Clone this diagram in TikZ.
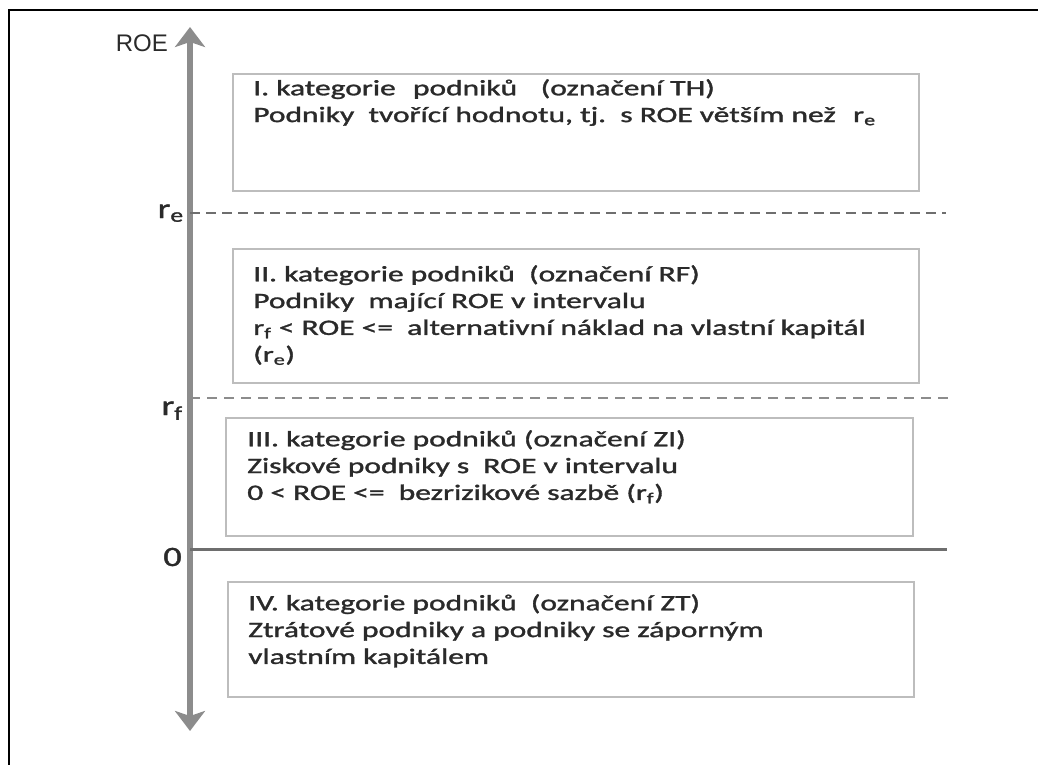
\documentclass[tikz,border=0pt]{standalone}
\usepackage{fontspec}
\setmainfont{Carlito}[Ligatures={NoCommon}, BoldFont={Carlito}, BoldFeatures={FakeBold=1.2}]
\newfontfamily\axisfont{Liberation Sans}
\usetikzlibrary{arrows.meta}
\definecolor{axisgray}{HTML}{8C8C8C}
\definecolor{boxgray}{HTML}{BDBDBD}
\definecolor{inkgray}{HTML}{2A2A2A}
\definecolor{linegray}{HTML}{6E6E6E}
\newcommand{\lowidx}[1]{\textsubscript{#1}}
\begin{document}
\begin{tikzpicture}[x=1pt,y=-1pt,
  catbox/.style={draw=boxgray, line width=2pt, fill=white, anchor=north west, inner sep=0pt},
  cattext/.style={anchor=north west, inner sep=0pt, align=left, text=inkgray,
    font=\bfseries\fontsize{22}{26.8}\selectfont, xscale=1.43, transform shape},
  levellabel/.style={anchor=base east, inner sep=0pt, text=inkgray,
    font=\bfseries\fontsize{28}{30}\selectfont, xscale=1.3, transform shape},
  axisline/.style={draw=axisgray, line width=6pt},
]
\useasboundingbox (0,0) rectangle (1038,765);
% outer frame
\draw[line width=1.5pt, black] (9,765) -- (9,10) -- (1038,10);

% vertical ROE axis
\coordinate (axtop) at (190,27);
\coordinate (axbot) at (190,731);
\draw[axisline, {Stealth[length=20pt,width=30pt,inset=5pt]}-{Stealth[length=20pt,width=30pt,inset=5pt]}] (axbot) -- (axtop);
\node[anchor=base east, inner sep=0pt, text=inkgray, font=\axisfont\fontsize{24}{26}\selectfont] (roe) at (168,52) {ROE};

% level lines
\coordinate (re0) at (190,213);
\coordinate (re1) at (946,213);
\coordinate (rf0) at (190,398);
\coordinate (rf1) at (948,398);
\coordinate (z0) at (190,549);
\coordinate (z1) at (947,549);
\draw[linegray, line width=2.6pt, dash pattern=on 10pt off 6pt] (re0) -- (re1);
\draw[axisgray, line width=1.4pt, dash pattern=on 10pt off 7pt] (rf0) -- (rf1);
\draw[linegray, line width=3pt] (z0) -- (z1);

\node[levellabel] (lre) at (184,218) {r\lowidx{e}};
\node[levellabel] (lrf) at (183,415) {r\lowidx{f}};
\node[levellabel] (lz) at (182,566) {0};

% category boxes
\node[catbox, minimum width=686pt, minimum height=117pt] (k1) at (232,73) {};
\node[catbox, minimum width=686pt, minimum height=134pt] (k2) at (232,248) {};
\node[catbox, minimum width=687pt, minimum height=118pt] (k3) at (225,417) {};
\node[catbox, minimum width=686pt, minimum height=115pt] (k4) at (227,581) {};

\node[cattext] (t1) at (253,79) {I. kategorie\hspace{0.55em}podniků\hspace{0.75em}(označení TH)\\Podniky\ \ tvořící hodnotu, tj.\ \ s ROE větším než\hspace{0.55em}r\lowidx{e}};
\node[cattext] (t2) at (253,265) {II. kategorie podniků\ \ (označení RF)\\Podniky\ \ mající ROE v intervalu\\r\lowidx{f} < ROE <=\ \ alternativní náklad na vlastní kapitál\\(r\lowidx{e})};
\node[cattext] (t3) at (247,430) {III. kategorie podniků (označení ZI)\\Ziskové podniky s\ \ ROE v intervalu\\0 < ROE <=\ \ bezrizikové sazbě (r\lowidx{f})};
\node[cattext] (t4) at (248,594) {IV. kategorie podniků\ \ (označení ZT)\\Ztrátové podniky a podniky se záporným\\vlastním kapitálem};
\end{tikzpicture}
\end{document}
